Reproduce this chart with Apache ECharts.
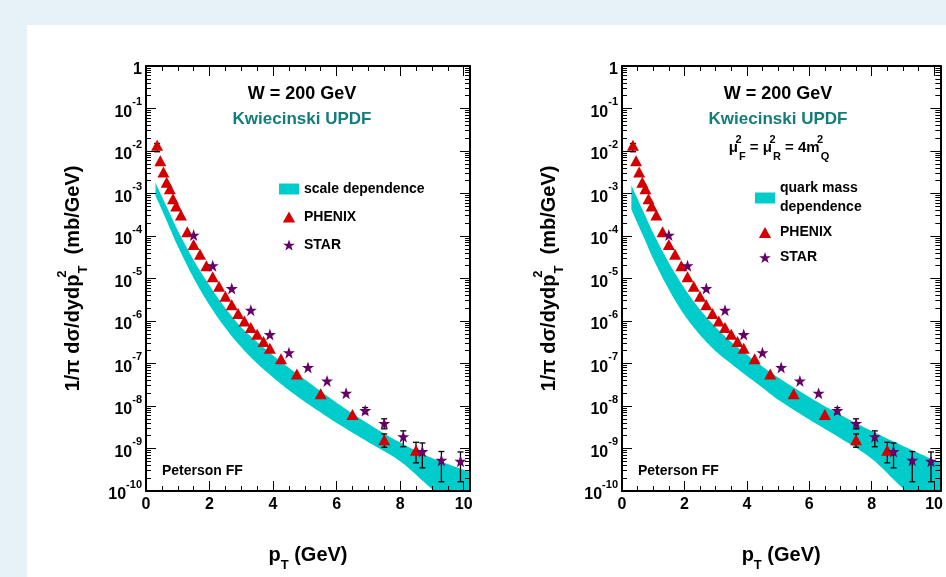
<!DOCTYPE html>
<html>
<head>
<meta charset="utf-8">
<script src="https://cdn.jsdelivr.net/npm/echarts@6/dist/echarts.min.js"></script>
<style>
html,body{margin:0;padding:0;width:946px;height:577px;overflow:hidden;background:#e7f1f8;}
#panel{position:absolute;left:27px;top:25px;right:0;bottom:0;background:#ffffff;}
#chart{position:absolute;left:0;top:0;width:946px;height:577px;}
</style>
</head>
<body>
<div id="panel"></div>
<div id="chart"></div>
<script>
// ---------------- data ----------------
const bandPt = [0.3, 0.5, 0.75, 1, 1.5, 2, 2.5, 3, 3.5, 4, 4.5, 5, 6, 7, 8, 9, 10.2];
const scaleBandLow  = [8.9e-4, 4.1e-4, 1.53e-4, 5.75e-5, 1.02e-5, 2.35e-6, 6.8e-7, 2.4e-7, 1.0e-7, 4.7e-8, 2.35e-8, 1.26e-8, 4.0e-9, 1.41e-9, 5.0e-10, 1.12e-10, 2.1e-11];
const scaleBandHigh = [1.78e-3, 8.5e-4, 3.4e-4, 1.35e-4, 2.7e-5, 6.8e-6, 2.0e-6, 7.1e-7, 3.2e-7, 1.55e-7, 7.9e-8, 4.2e-8, 1.2e-8, 3.8e-9, 1.38e-9, 6.0e-10, 2.8e-10];
const massBandLow   = [4.2e-4, 1.95e-4, 7.6e-5, 2.9e-5, 5.5e-6, 1.38e-6, 4.7e-7, 1.95e-7, 9.8e-8, 5.1e-8, 2.7e-8, 1.41e-8, 4.8e-9, 1.74e-9, 5.75e-10, 1.15e-10, 2.0e-11];
const massBandHigh  = [1.55e-3, 7.4e-4, 2.95e-4, 1.17e-4, 2.35e-5, 5.9e-6, 1.86e-6, 7.2e-7, 3.2e-7, 1.62e-7, 8.5e-8, 4.7e-8, 1.62e-8, 6.2e-9, 2.57e-9, 1.15e-9, 4.6e-10];

const phenixPt  = [0.35, 0.45, 0.55, 0.65, 0.75, 0.85, 0.95, 1.1, 1.3, 1.5, 1.7, 1.9, 2.1, 2.3, 2.5, 2.7, 2.9, 3.1, 3.3, 3.5, 3.7, 3.9, 4.25, 4.75, 5.5, 6.5, 7.5, 8.5];
const phenixVal = [1.36e-2, 5.9e-3, 3.2e-3, 1.85e-3, 1.3e-3, 7.5e-4, 5.1e-4, 3.1e-4, 1.26e-4, 6.3e-5, 3.7e-5, 2.0e-5, 1.1e-5, 6.6e-6, 3.8e-6, 2.4e-6, 1.5e-6, 1.0e-6, 7.0e-7, 4.9e-7, 3.3e-7, 2.3e-7, 1.3e-7, 5.7e-8, 1.95e-8, 6.3e-9, 1.6e-9, 9.1e-10];
const phenixErrPt   = [0.35, 7.5, 8.5];
const phenixErrLow  = [9.6e-3, 1.07e-9, 4.6e-10];
const phenixErrHigh = [1.5e-2, 2.2e-9, 1.4e-9];

const starPt  = [1.5, 2.1, 2.7, 3.3, 3.9, 4.5, 5.1, 5.7, 6.3, 6.9, 7.5, 8.1, 8.7, 9.3, 9.9];
const starVal = [1.05e-4, 2.0e-5, 5.8e-6, 1.8e-6, 4.8e-7, 1.8e-7, 8.1e-8, 3.9e-8, 2.0e-8, 7.8e-9, 3.9e-9, 1.9e-9, 8.5e-10, 5.3e-10, 5.0e-10];
const starErrPt   = [6.9, 7.5, 8.1, 8.7, 9.3, 9.9];
const starErrLow  = [6.6e-9, 2.9e-9, 1.1e-9, 3.5e-10, 1.65e-10, 1.65e-10];
const starErrHigh = [9.2e-9, 5.0e-9, 2.6e-9, 1.35e-9, 8.5e-10, 8.3e-10];

const xMajorTicks = [0, 2, 4, 6, 8, 10];
const yDecadeTicks = [1e-10, 1e-9, 1e-8, 1e-7, 1e-6, 1e-5, 1e-4, 1e-3, 1e-2, 1e-1, 1];

// ---------------- helpers ----------------
const xMinorTicks = [];
for (let i = 1; i <= 19; i++) { if (i % 4 !== 0) xMinorTicks.push(i * 0.5); }
const yMinorTicks = [];
for (let e = -10; e < 0; e++) { for (let m = 2; m <= 9; m++) yMinorTicks.push(m * Math.pow(10, e)); }

const FONT = '"Liberation Sans", Arial, Helvetica, sans-serif';
const CYAN = '#00cccc', RED = '#d40000', PURPLE = '#660066', TEAL = '#137c7c';
const STAR_PATH = 'path://M50,2 L61.8,35.6 L97.6,35.6 L68.9,56.8 L79.4,90.9 L50,70.3 L20.6,90.9 L31.1,56.8 L2.4,35.6 L38.2,35.6 Z';
const TRI_PATH = 'path://M50,0 L100,90 L0,90 Z';

const panels = [
  { left: 146, width: 324, bandName: 'scale dependence', low: scaleBandLow, high: scaleBandHigh },
  { left: 622, width: 322, bandName: 'quark mass\ndependence', low: massBandLow, high: massBandHigh }
];

const grid = panels.map(p => ({ left: p.left, top: 66, width: p.width, height: 429 }));

const xAxis = [], yAxis = [], series = [];

function xAx(g, pos, major) {
  const isMain = major && pos === 'bottom';
  return {
    type: 'value', gridIndex: g, position: pos, min: 0, max: 10.2, z: 10,
    axisLine: { show: major, onZero: false, lineStyle: { color: '#000', width: 2 } },
    axisTick: { show: true, inside: true, length: major ? 10 : 5, customValues: major ? xMajorTicks : xMinorTicks,
                lineStyle: { color: '#000', width: 1 } },
    axisLabel: { show: isMain, customValues: xMajorTicks, margin: 6, color: '#000', fontSize: 16,
                 fontWeight: 'bold', fontFamily: FONT, formatter: v => String(v) },
    splitLine: { show: false }, minorTick: { show: false },
    name: isMain ? '{p|p}{t|T}{g| (GeV)}' : '',
    nameLocation: 'middle', nameGap: 47,
    nameTextStyle: { rich: {
      p: { fontSize: 20, fontWeight: 'bold', fontFamily: FONT, color: '#000', lineHeight: 34, verticalAlign: 'middle' },
      t: { fontSize: 13, fontWeight: 'bold', fontFamily: FONT, color: '#000', lineHeight: 34, verticalAlign: 'bottom' },
      g: { fontSize: 20, fontWeight: 'bold', fontFamily: FONT, color: '#000', lineHeight: 34, verticalAlign: 'middle' }
    } }
  };
}

function yAx(g, pos, major) {
  const isMain = major && pos === 'left';
  return {
    type: 'log', logBase: 10, gridIndex: g, position: pos, min: 1e-10, max: 1, z: 10,
    axisLine: { show: major, onZero: false, lineStyle: { color: '#000', width: 2 } },
    axisTick: { show: true, inside: true, length: major ? 10 : 5, customValues: major ? yDecadeTicks : yMinorTicks,
                lineStyle: { color: '#000', width: 1 } },
    axisLabel: { show: isMain, customValues: yDecadeTicks, margin: 4,
      formatter: v => { const e = Math.round(Math.log10(v)); return e === 0 ? '{b|1}' : '{b|10}{s|' + e + '}'; },
      rich: {
        b: { fontSize: 16, fontWeight: 'bold', fontFamily: FONT, color: '#000', lineHeight: 24, verticalAlign: 'bottom' },
        s: { fontSize: 11, fontWeight: 'bold', fontFamily: FONT, color: '#000', lineHeight: 14, verticalAlign: 'top' }
      } },
    splitLine: { show: false }, minorTick: { show: false },
    name: isMain ? '{a|1/π dσ/dydp}{sup|2}{sub|T}{a|  (mb/GeV)}' : '',
    nameLocation: 'middle', nameGap: 56, nameRotate: 90,
    nameTextStyle: { rich: {
      a: { fontSize: 20, fontWeight: 'bold', fontFamily: FONT, color: '#000', lineHeight: 34, verticalAlign: 'middle' },
      sup: { fontSize: 13, fontWeight: 'bold', fontFamily: FONT, color: '#000', lineHeight: 34, verticalAlign: 'top', width: 1 },
      sub: { fontSize: 13, fontWeight: 'bold', fontFamily: FONT, color: '#000', lineHeight: 34, verticalAlign: 'bottom' }
    } }
  };
}

function renderErr(params, api) {
  const x = api.value(0), lo = api.value(1), hi = api.value(2);
  const a = api.coord([x, hi]), b = api.coord([x, lo]);
  const w = 3;
  const st = { stroke: '#000', lineWidth: 1.3 };
  return { type: 'group', children: [
    { type: 'line', shape: { x1: a[0], y1: a[1], x2: b[0], y2: b[1] }, style: st },
    { type: 'line', shape: { x1: a[0] - w, y1: a[1], x2: a[0] + w, y2: a[1] }, style: st },
    { type: 'line', shape: { x1: b[0] - w, y1: b[1], x2: b[0] + w, y2: b[1] }, style: st }
  ] };
}

// Catmull-Rom smoothing of screen points (drawing only)
function smoothPts(pts) {
  const out = [];
  const n = pts.length;
  for (let i = 0; i < n - 1; i++) {
    const p0 = pts[Math.max(i - 1, 0)], p1 = pts[i], p2 = pts[i + 1], p3 = pts[Math.min(i + 2, n - 1)];
    const c1 = [p1[0] + (p2[0] - p0[0]) / 6, p1[1] + (p2[1] - p0[1]) / 6];
    const c2 = [p2[0] - (p3[0] - p1[0]) / 6, p2[1] - (p3[1] - p1[1]) / 6];
    for (let k = 0; k < 12; k++) {
      const t = k / 12, u = 1 - t;
      out.push([
        u * u * u * p1[0] + 3 * u * u * t * c1[0] + 3 * u * t * t * c2[0] + t * t * t * p2[0],
        u * u * u * p1[1] + 3 * u * u * t * c1[1] + 3 * u * t * t * c2[1] + t * t * t * p2[1]
      ]);
    }
  }
  out.push(pts[n - 1]);
  return out;
}

function renderBand(params, api) {
  if (params.dataIndexInside !== 0) return null;
  const n = params.dataInsideLength;
  const up = [], lo = [];
  for (let i = 0; i < n; i++) {
    const x = api.value(0, i);
    lo.push(api.coord([x, api.value(1, i)]));
    up.push(api.coord([x, api.value(2, i)]));
  }
  const poly = smoothPts(up).concat(smoothPts(lo.reverse()));
  return { type: 'polygon', shape: { points: poly }, style: { fill: CYAN } };
}

panels.forEach((p, g) => {
  const xi = xAxis.length, yi = yAxis.length;
  xAxis.push(xAx(g, 'bottom', true), xAx(g, 'bottom', false), xAx(g, 'top', true), xAx(g, 'top', false));
  yAxis.push(yAx(g, 'left', true), yAx(g, 'left', false), yAx(g, 'right', true), yAx(g, 'right', false));
  const common = { xAxisIndex: xi, yAxisIndex: yi };
  series.push(Object.assign({
    type: 'custom', name: p.bandName, renderItem: renderBand, clip: true, z: 2, silent: true,
    itemStyle: { color: CYAN },
    encode: { x: 0, y: [1, 2] },
    data: bandPt.map((x, i) => [x, p.low[i], p.high[i]])
  }, common));
  series.push(Object.assign({
    type: 'custom', name: 'PHENIX errors', renderItem: renderErr, clip: true, z: 3, silent: true,
    encode: { x: 0, y: [1, 2] },
    data: phenixErrPt.map((x, i) => [x, phenixErrLow[i], phenixErrHigh[i]])
  }, common));
  series.push(Object.assign({
    type: 'custom', name: 'STAR errors', renderItem: renderErr, clip: true, z: 3, silent: true,
    encode: { x: 0, y: [1, 2] },
    data: starErrPt.map((x, i) => [x, starErrLow[i], starErrHigh[i]])
  }, common));
  series.push(Object.assign({
    type: 'scatter', name: 'PHENIX', symbol: 'triangle', symbolSize: [12, 11], z: 4,
    itemStyle: { color: RED, opacity: 1 }, data: phenixPt.map((x, i) => [x, phenixVal[i]])
  }, common));
  series.push(Object.assign({
    type: 'scatter', name: 'STAR', symbol: STAR_PATH, symbolSize: 12, z: 4,
    itemStyle: { color: PURPLE, opacity: 1 }, data: starPt.map((x, i) => [x, starVal[i]])
  }, common));
});

const legendText = { fontSize: 14, fontWeight: 'bold', fontFamily: FONT, color: '#000' };
const legend = [
  { left: 279, top: 182, orient: 'vertical', padding: 0, itemGap: 14, itemWidth: 20, itemHeight: 11,
    selectedMode: false, symbolKeepAspect: true, textStyle: legendText,
    data: [{ name: 'scale dependence', icon: 'rect', itemStyle: { color: CYAN } },
           { name: 'PHENIX', icon: TRI_PATH }, { name: 'STAR', icon: STAR_PATH }] },
  { left: 755, top: 179, orient: 'vertical', padding: 0, itemGap: 6, itemWidth: 20, itemHeight: 11,
    selectedMode: false, symbolKeepAspect: true, textStyle: Object.assign({ lineHeight: 19 }, legendText),
    data: [{ name: 'quark mass\ndependence', icon: 'rect', itemStyle: { color: CYAN } },
           { name: 'PHENIX', icon: TRI_PATH }, { name: 'STAR', icon: STAR_PATH }] }
];

function txt(x, y, text, size, color, align) {
  return { type: 'text', x: x, y: y, z: 20, silent: true,
    style: { text: text, fill: color, font: 'bold ' + size + 'px ' + FONT,
             align: align || 'center', verticalAlign: 'middle', textAlign: align || 'center', textVerticalAlign: 'middle' } };
}
const muRich = {
  m: { fontSize: 15, fontWeight: 'bold', fontFamily: FONT, fill: '#000', color: '#000', lineHeight: 28, verticalAlign: 'middle' },
  u: { fontSize: 11, fontWeight: 'bold', fontFamily: FONT, fill: '#000', color: '#000', lineHeight: 28, verticalAlign: 'top', width: 1 },
  d: { fontSize: 11, fontWeight: 'bold', fontFamily: FONT, fill: '#000', color: '#000', lineHeight: 28, verticalAlign: 'bottom' }
};
const graphic = [
  txt(302, 94, 'W = 200 GeV', 18, '#000'),
  txt(302, 119, 'Kwiecinski UPDF', 17, TEAL),
  txt(162, 471, 'Peterson FF', 14, '#000', 'left'),
  txt(778, 94, 'W = 200 GeV', 18, '#000'),
  txt(778, 119, 'Kwiecinski UPDF', 17, TEAL),
  txt(638, 471, 'Peterson FF', 14, '#000', 'left'),
  { type: 'text', x: 779, y: 148, z: 20, silent: true,
    style: { text: '{m|μ}{u|2}{d|F}{m| = μ}{u|2}{d|R}{m| = 4m}{u|2}{d|Q}', rich: muRich, fill: '#000',
             align: 'center', verticalAlign: 'middle', textAlign: 'center', textVerticalAlign: 'middle' } }
];

const chart = echarts.init(document.getElementById('chart'), null, { renderer: 'canvas', width: 946, height: 577 });
chart.setOption({
  animation: false,
  backgroundColor: 'transparent',
  grid: grid,
  xAxis: xAxis,
  yAxis: yAxis,
  legend: legend,
  graphic: graphic,
  series: series
});
</script>
</body>
</html>
